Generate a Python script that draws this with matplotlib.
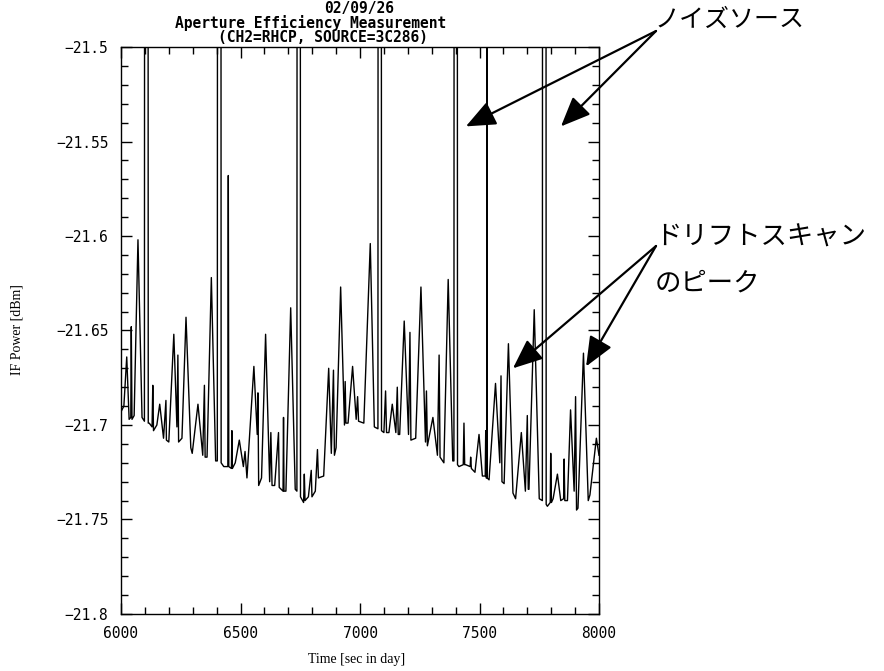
import matplotlib
matplotlib.use("Agg")
from matplotlib import pyplot as plt
from matplotlib.ticker import MultipleLocator, FixedLocator, FixedFormatter

# IF power trace (time [s], power [dBm]);
# -21.3 marks noise-source steps that go off the top of the plot
time_s = [6000, 6012, 6024, 6034, 6041, 6043, 6046, 6055, 6071, 6088,
          6098, 6099, 6113, 6114, 6118, 6130, 6133, 6136, 6150, 6162,
          6178, 6188, 6190, 6200, 6221, 6234, 6238, 6241, 6255, 6272,
          6292, 6298, 6322, 6342, 6349, 6352, 6360, 6378, 6396, 6403,
          6404, 6418, 6419, 6430, 6447, 6449, 6451, 6462, 6464, 6466,
          6478, 6495, 6512, 6519, 6527, 6556, 6570, 6573, 6576, 6588,
          6605, 6622, 6627, 6632, 6643, 6659, 6662, 6678, 6680, 6682,
          6690, 6710, 6729, 6736, 6737, 6750, 6751, 6764, 6767, 6770,
          6784, 6796, 6799, 6813, 6822, 6826, 6848, 6869, 6880, 6889,
          6893, 6900, 6919, 6935, 6938, 6941, 6950, 6969, 6984, 6990,
          6994, 7016, 7043, 7060, 7075, 7076, 7089, 7090, 7100, 7107,
          7111, 7121, 7135, 7150, 7156, 7160, 7166, 7185, 7203, 7209,
          7213, 7233, 7255, 7274, 7278, 7282, 7305, 7324, 7331, 7335,
          7351, 7369, 7388, 7393, 7394, 7407, 7408, 7414, 7432, 7435,
          7438, 7442, 7461, 7463, 7466, 7481, 7498, 7512, 7524, 7526,
          7528, 7530, 7531, 7532, 7540, 7567, 7585, 7590, 7594, 7603,
          7621, 7640, 7651, 7675, 7692, 7700, 7704, 7707, 7729, 7750,
          7763, 7764, 7778, 7779, 7784, 7796, 7798, 7801, 7808, 7826,
          7840, 7852, 7854, 7857, 7868, 7881, 7896, 7902, 7906, 7912,
          7935, 7955, 7962, 7989, 8000]
power_dbm = [-21.693, -21.690, -21.664, -21.697, -21.696, -21.648, -21.697, -21.695, -21.602, -21.696,
             -21.698, -21.3, -21.3, -21.699, -21.699, -21.701, -21.679, -21.703, -21.700, -21.689,
             -21.707, -21.687, -21.708, -21.709, -21.652, -21.701, -21.663, -21.709, -21.707, -21.643,
             -21.712, -21.715, -21.689, -21.716, -21.679, -21.717, -21.717, -21.622, -21.719, -21.719,
             -21.3, -21.3, -21.720, -21.722, -21.722, -21.568, -21.722, -21.723, -21.703, -21.723,
             -21.720, -21.708, -21.722, -21.714, -21.728, -21.669, -21.705, -21.683, -21.732, -21.728,
             -21.652, -21.730, -21.704, -21.732, -21.732, -21.704, -21.733, -21.735, -21.696, -21.735,
             -21.735, -21.638, -21.734, -21.735, -21.3, -21.3, -21.738, -21.741, -21.726, -21.740,
             -21.738, -21.724, -21.738, -21.735, -21.713, -21.728, -21.727, -21.670, -21.715, -21.671,
             -21.716, -21.712, -21.627, -21.700, -21.677, -21.699, -21.699, -21.669, -21.697, -21.685,
             -21.698, -21.699, -21.604, -21.701, -21.702, -21.3, -21.3, -21.703, -21.704, -21.682,
             -21.704, -21.704, -21.689, -21.704, -21.680, -21.705, -21.705, -21.645, -21.705, -21.651,
             -21.708, -21.707, -21.627, -21.709, -21.682, -21.711, -21.696, -21.716, -21.663, -21.717,
             -21.720, -21.623, -21.719, -21.719, -21.3, -21.3, -21.721, -21.722, -21.721, -21.699,
             -21.721, -21.721, -21.722, -21.717, -21.723, -21.725, -21.705, -21.727, -21.727, -21.703,
             -21.728, -21.728, -21.3, -21.728, -21.729, -21.678, -21.720, -21.674, -21.730, -21.731,
             -21.657, -21.736, -21.739, -21.704, -21.735, -21.695, -21.734, -21.734, -21.639, -21.739,
             -21.740, -21.3, -21.3, -21.742, -21.743, -21.741, -21.715, -21.741, -21.739, -21.726,
             -21.740, -21.739, -21.718, -21.740, -21.740, -21.692, -21.735, -21.685, -21.745, -21.744,
             -21.662, -21.740, -21.737, -21.707, -21.716]

y_ticks = [-21.8, -21.75, -21.7, -21.65, -21.6, -21.55, -21.5]
y_tick_labels = ['\u221221.8', '\u221221.75', '\u221221.7', '\u221221.65',
                 '\u221221.6', '\u221221.55', '\u221221.5']
x_ticks = [6000, 6500, 7000, 7500, 8000]

# arrow tips (data coords)
noise_tips = [(7443, -21.542), (7841, -21.542)]
peak_tips = [(7640, -21.670), (7946, -21.669)]

W, H = 884, 671
fig = plt.figure(figsize=(W / 100, H / 100), dpi=100)
ax = fig.add_axes([121 / W, (H - 614) / H, 478 / W, 567 / H])

ax.plot(time_s, power_dbm, color='black', lw=1.0)
ax.set_xlim(6000, 8000)
ax.set_ylim(-21.8, -21.5)

mono = 'DejaVu Sans Mono'
ax.xaxis.set_major_locator(FixedLocator(x_ticks))
ax.xaxis.set_minor_locator(MultipleLocator(100))
ax.yaxis.set_major_locator(FixedLocator(y_ticks))
ax.yaxis.set_major_formatter(FixedFormatter(y_tick_labels))
ax.yaxis.set_minor_locator(MultipleLocator(0.01))
ax.tick_params(which='both', direction='in', top=True, right=True, width=1)
ax.tick_params(which='major', length=8)
ax.tick_params(which='minor', length=5)
ax.tick_params(axis='x', pad=9)
ax.tick_params(axis='y', pad=9)
for lab in ax.get_xticklabels() + ax.get_yticklabels():
    lab.set_family(mono)
    lab.set_fontsize(10.5)
for s in ax.spines.values():
    s.set_linewidth(1.0)

# title lines
def fpx(x, y):
    return x / W, (H - y) / H

tfont = dict(family=mono, fontweight='bold', fontsize=10.5, ha='left', va='center')
fig.text(*fpx(324, 9), '02/09/26', **tfont)
fig.text(*fpx(175, 23), 'Aperture Efficiency Measurement', **tfont)
fig.text(*fpx(218, 37), '(CH2=RHCP, SOURCE=3C286)', **tfont)

fig.text(*fpx(357, 659), 'Time [sec in day]', family='Liberation Serif',
         fontsize=10, ha='center', va='center')
fig.text(*fpx(17, 330), 'IF Power [dBm]', family='Liberation Serif',
         fontsize=10, ha='center', va='center', rotation=90)

# Japanese annotations with arrows
jp = ['Noto Sans CJK JP', 'DejaVu Sans']
fig.text(*fpx(655, 20), 'ノイズソース', family=jp, fontsize=18, ha='left', va='center')
fig.text(*fpx(655, 237), 'ドリフトスキャン', family=jp, fontsize=19, ha='left', va='center')
fig.text(*fpx(655, 283), 'のピーク', family=jp, fontsize=19, ha='left', va='center')

arrow = dict(arrowstyle='-|>,head_length=1.3,head_width=0.55', color='black',
             lw=1.6, mutation_scale=14, shrinkA=0, shrinkB=0)
for tip in noise_tips:
    ax.annotate('', xy=tip, xycoords='data', xytext=(656, H - 31),
                textcoords='figure pixels', arrowprops=arrow, annotation_clip=False)
for tip in peak_tips:
    ax.annotate('', xy=tip, xycoords='data', xytext=(656, H - 246),
                textcoords='figure pixels', arrowprops=arrow, annotation_clip=False)

fig.savefig('out.png', dpi=100)
